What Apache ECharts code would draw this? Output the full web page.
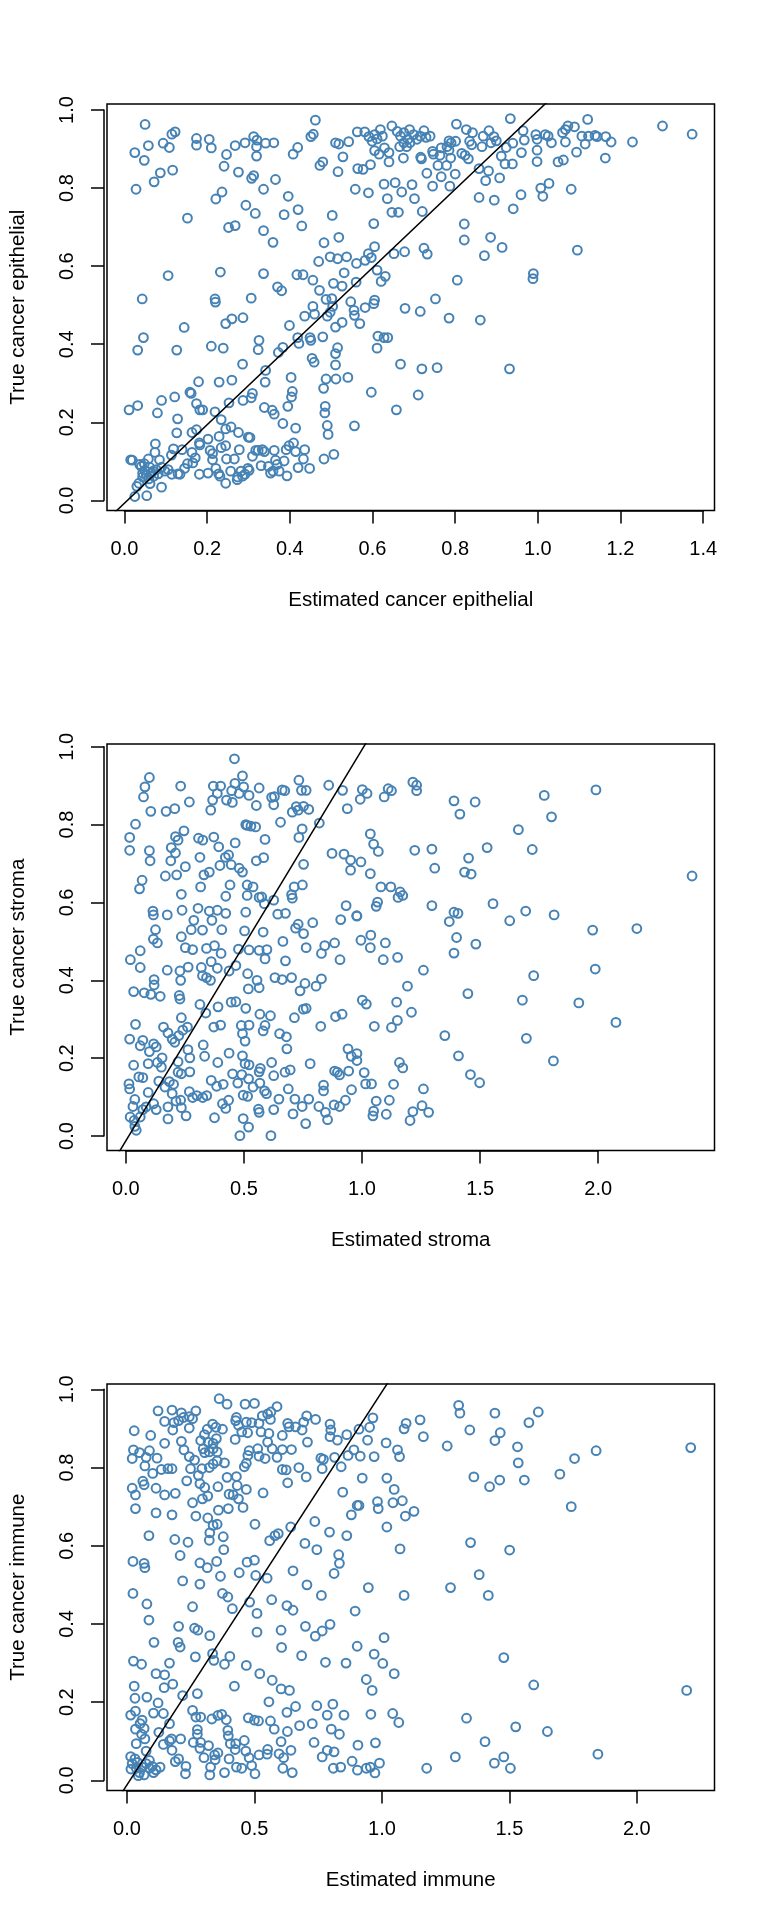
<!DOCTYPE html>
<html>
<head>
<meta charset="utf-8">
<script src="https://cdn.jsdelivr.net/npm/echarts@6/dist/echarts.min.js"></script>
<style>
html,body{margin:0;padding:0;background:#fff;}
#chart{width:768px;height:1920px;}
</style>
</head>
<body>
<div id="chart"></div>
<script>
// ---------------- DATA ----------------
// Panel 1: estimated vs true cancer epithelial  [estimated, true]
const epithelialPoints = [
[0.043,0.963],[0.018,0.891],[0.041,0.871],[0.051,0.909],[0.021,0.797],[0.065,0.816],[0.080,0.839],[0.087,0.915],[0.102,0.904],[0.108,0.938],
[0.116,0.944],[0.110,0.846],[0.146,0.723],[0.168,0.927],[0.168,0.910],[0.199,0.925],[0.204,0.903],[0.241,0.886],[0.235,0.856],[0.262,0.909],
[0.270,0.841],[0.286,0.916],[0.307,0.932],[0.315,0.923],[0.314,0.882],[0.314,0.906],[0.336,0.915],[0.356,0.916],[0.302,0.825],[0.307,0.832],
[0.360,0.822],[0.331,0.797],[0.230,0.790],[0.215,0.772],[0.288,0.756],[0.311,0.735],[0.246,0.699],[0.262,0.704],[0.331,0.691],[0.354,0.661],
[0.381,0.732],[0.391,0.779],[0.415,0.745],[0.424,0.703],[0.403,0.887],[0.414,0.904],[0.446,0.932],[0.452,0.938],[0.457,0.974],[0.468,0.858],
[0.475,0.867],[0.506,0.916],[0.514,0.913],[0.512,0.842],[0.524,0.880],[0.538,0.919],[0.559,0.944],[0.577,0.944],[0.560,0.850],[0.573,0.848],
[0.591,0.860],[0.554,0.797],[0.586,0.788],[0.498,0.730],[0.514,0.674],[0.478,0.660],[0.599,0.709],[0.601,0.650],[0.586,0.632],[0.465,0.612],
[0.493,0.624],[0.511,0.619],[0.533,0.624],[0.557,0.607],[0.578,0.615],[0.593,0.622],[0.527,0.583],[0.556,0.559],[0.522,0.549],[0.501,0.556],
[0.451,0.564],[0.467,0.538],[0.483,0.515],[0.497,0.517],[0.543,0.509],[0.578,0.494],[0.599,0.504],[0.601,0.513],[0.412,0.578],[0.427,0.578],
[0.331,0.581],[0.365,0.547],[0.375,0.537],[0.301,0.518],[0.213,0.516],[0.214,0.508],[0.226,0.585],[0.099,0.576],[0.036,0.516],[0.039,0.417],
[0.025,0.385],[0.138,0.443],[0.120,0.385],[0.204,0.395],[0.233,0.390],[0.239,0.453],[0.254,0.465],[0.281,0.468],[0.320,0.410],[0.318,0.386],
[0.280,0.349],[0.336,0.333],[0.335,0.303],[0.367,0.379],[0.378,0.392],[0.394,0.448],[0.414,0.417],[0.417,0.402],[0.431,0.472],[0.451,0.497],
[0.455,0.477],[0.444,0.417],[0.446,0.410],[0.449,0.364],[0.454,0.354],[0.475,0.419],[0.486,0.472],[0.493,0.482],[0.499,0.497],[0.506,0.444],
[0.506,0.376],[0.511,0.391],[0.506,0.347],[0.522,0.456],[0.551,0.487],[0.552,0.474],[0.565,0.453],[0.483,0.311],[0.507,0.311],[0.536,0.315],
[0.477,0.287],[0.481,0.241],[0.480,0.224],[0.486,0.192],[0.488,0.169],[0.593,0.277],[0.607,0.390],[0.609,0.421],[0.624,0.417],[0.633,0.417],
[0.664,0.349],[0.654,0.232],[0.552,0.191],[0.675,0.492],[0.674,0.637],[0.648,0.632],[0.627,0.574],[0.617,0.561],[0.607,0.590],[0.398,0.315],
[0.401,0.279],[0.399,0.265],[0.390,0.241],[0.378,0.197],[0.409,0.185],[0.333,0.238],[0.352,0.231],[0.357,0.221],[0.304,0.274],[0.301,0.263],
[0.281,0.256],[0.247,0.250],[0.254,0.308],[0.223,0.303],[0.173,0.304],[0.152,0.277],[0.155,0.274],[0.168,0.248],[0.176,0.232],[0.183,0.232],
[0.115,0.265],[0.083,0.256],[0.073,0.224],[0.122,0.209],[0.120,0.173],[0.157,0.174],[0.168,0.181],[0.213,0.227],[0.228,0.207],[0.239,0.183],
[0.252,0.188],[0.270,0.174],[0.294,0.162],[0.298,0.161],[0.004,0.232],[0.025,0.243],[0.068,0.145],[0.223,0.164],[0.196,0.157],[0.175,0.147],
[0.008,0.104],[0.012,0.103],[0.030,0.092],[0.042,0.077],[0.037,0.070],[0.051,0.106],[0.054,0.085],[0.062,0.075],[0.067,0.123],[0.078,0.104],
[0.083,0.085],[0.091,0.075],[0.107,0.116],[0.112,0.132],[0.123,0.068],[0.133,0.130],[0.139,0.082],[0.146,0.094],[0.157,0.123],[0.165,0.109],
[0.175,0.067],[0.176,0.142],[0.201,0.128],[0.207,0.120],[0.207,0.104],[0.215,0.082],[0.222,0.068],[0.228,0.135],[0.239,0.140],[0.241,0.106],
[0.239,0.044],[0.251,0.075],[0.260,0.106],[0.267,0.053],[0.272,0.130],[0.276,0.075],[0.286,0.067],[0.293,0.082],[0.304,0.113],[0.318,0.128],
[0.328,0.130],[0.333,0.125],[0.343,0.087],[0.348,0.070],[0.357,0.128],[0.360,0.103],[0.369,0.075],[0.381,0.101],[0.386,0.130],[0.388,0.063],
[0.393,0.140],[0.404,0.147],[0.409,0.125],[0.415,0.084],[0.428,0.106],[0.431,0.130],[0.443,0.082],[0.478,0.106],[0.502,0.118],[0.018,0.010],
[0.047,0.012],[0.023,0.036],[0.028,0.044],[0.055,0.043],[0.083,0.034],[0.037,0.060],[0.046,0.065],[0.058,0.070],[0.070,0.079],[0.099,0.079],
[0.108,0.067],[0.128,0.067],[0.159,0.096],[0.196,0.070],[0.225,0.062],[0.268,0.060],[0.280,0.062],[0.296,0.077],[0.354,0.075],[0.364,0.092],
[0.325,0.089],[0.312,0.128],[0.034,0.087],[0.052,0.055],[0.064,0.062],[0.075,0.068],[0.041,0.094],
[0.800,0.964],[0.824,0.950],[0.839,0.942],[0.865,0.933],[0.879,0.947],[0.891,0.932],[0.931,0.978],[0.962,0.947],[0.965,0.923],[0.993,0.937],
[0.996,0.925],[0.996,0.897],[1.016,0.937],[1.023,0.933],[1.031,0.916],[1.058,0.942],[1.065,0.950],[1.071,0.959],[1.087,0.957],[1.065,0.918],
[1.092,0.892],[1.105,0.933],[1.119,0.976],[1.121,0.933],[1.137,0.935],[1.142,0.932],[1.163,0.932],[1.176,0.918],[1.162,0.877],[1.113,0.913],
[1.228,0.918],[1.301,0.959],[1.373,0.938],[1.047,0.867],[1.060,0.872],[0.996,0.868],[1.005,0.800],[1.025,0.812],[1.010,0.779],[1.079,0.797],
[0.957,0.783],[0.938,0.747],[0.892,0.769],[0.855,0.776],[0.905,0.826],[0.871,0.819],[0.878,0.844],[0.855,0.850],[0.918,0.862],[0.936,0.862],
[0.909,0.882],[0.958,0.891],[0.937,0.915],[0.921,0.904],[0.897,0.921],[0.884,0.916],[0.862,0.906],[0.837,0.911],[0.832,0.920],[0.829,0.875],
[0.821,0.884],[0.813,0.889],[0.798,0.920],[0.787,0.916],[0.782,0.921],[0.777,0.906],[0.786,0.877],[0.776,0.858],[0.797,0.836],[0.784,0.805],
[0.763,0.829],[0.755,0.858],[0.760,0.884],[0.742,0.894],[0.728,0.838],[0.742,0.805],[0.713,0.879],[0.692,0.809],[0.698,0.773],[0.717,0.740],
[0.721,0.646],[0.729,0.631],[0.819,0.708],[0.819,0.667],[0.883,0.674],[0.911,0.648],[0.868,0.627],[0.802,0.564],[0.987,0.581],[0.986,0.568],
[1.094,0.641],[0.749,0.516],[0.712,0.484],[0.782,0.467],[0.858,0.462],[0.716,0.337],[0.753,0.340],[0.929,0.337],[0.707,0.270],[0.686,0.950],
[0.696,0.937],[0.704,0.925],[0.712,0.933],[0.721,0.947],[0.726,0.930],[0.736,0.933],[0.687,0.916],[0.679,0.906],[0.715,0.875],[0.744,0.887],
[0.763,0.903],[0.782,0.897],[0.587,0.932],[0.595,0.920],[0.601,0.937],[0.607,0.926],[0.615,0.950],[0.620,0.933],[0.625,0.903],[0.601,0.896],
[0.636,0.867],[0.643,0.959],[0.656,0.945],[0.664,0.933],[0.672,0.942],[0.672,0.916],[0.682,0.925],[0.662,0.906],[0.671,0.877],[0.636,0.891],
[0.612,0.887],[0.651,0.814],[0.624,0.810],[0.632,0.773],[0.667,0.790],[0.643,0.738],[0.659,0.738]
];

// Panel 2: estimated vs true cancer stroma  [estimated, true]
const stromaPoints = [
[0.450,0.969],[0.484,0.925],[0.088,0.921],[0.069,0.897],[0.063,0.871],[0.221,0.899],[0.094,0.834],[0.029,0.801],[0.004,0.767],[0.004,0.734],
[0.088,0.733],[0.091,0.707],[0.057,0.657],[0.046,0.635],[0.159,0.834],[0.196,0.841],[0.258,0.858],[0.199,0.769],[0.210,0.760],[0.235,0.784],
[0.181,0.741],[0.199,0.727],[0.179,0.707],[0.241,0.692],[0.156,0.668],[0.204,0.671],[0.224,0.621],[0.103,0.578],[0.105,0.568],[0.164,0.568],
[0.227,0.580],[0.114,0.530],[0.105,0.506],[0.122,0.496],[0.007,0.453],[0.049,0.476],[0.049,0.433],[0.164,0.426],[0.218,0.424],[0.253,0.434],
[0.224,0.512],[0.241,0.484],[0.272,0.479],[0.108,0.402],[0.108,0.388],[0.021,0.371],[0.066,0.368],[0.094,0.364],[0.134,0.359],[0.215,0.361],
[0.218,0.352],[0.221,0.400],[0.029,0.287],[0.004,0.249],[0.060,0.246],[0.049,0.232],[0.088,0.217],[0.106,0.237],[0.117,0.229],[0.148,0.280],
[0.167,0.265],[0.185,0.249],[0.196,0.241],[0.213,0.258],[0.224,0.304],[0.230,0.272],[0.250,0.280],[0.303,0.338],[0.328,0.316],[0.380,0.332],
[0.362,0.280],[0.391,0.285],[0.436,0.344],[0.456,0.345],[0.498,0.328],[0.558,0.313],[0.603,0.309],[0.479,0.284],[0.512,0.285],[0.484,0.263],
[0.495,0.244],[0.580,0.284],[0.572,0.270],[0.642,0.263],[0.671,0.255],[0.705,0.304],[0.743,0.326],[0.755,0.328],[0.817,0.282],[0.880,0.307],
[0.908,0.313],[0.673,0.224],[0.317,0.234],[0.323,0.205],[0.260,0.201],[0.252,0.222],[0.021,0.182],[0.083,0.186],[0.122,0.189],[0.139,0.177],
[0.142,0.201],[0.210,0.191],[0.210,0.164],[0.224,0.160],[0.260,0.165],[0.043,0.152],[0.060,0.150],[0.128,0.141],[0.001,0.134],[0.004,0.121],
[0.026,0.094],[0.018,0.076],[0.006,0.049],[0.023,0.040],[0.026,0.025],[0.032,0.015],[0.049,0.049],[0.060,0.068],[0.074,0.075],[0.083,0.112],
[0.106,0.083],[0.117,0.068],[0.154,0.126],[0.173,0.140],[0.191,0.133],[0.185,0.109],[0.167,0.075],[0.167,0.044],[0.201,0.090],[0.221,0.092],
[0.224,0.073],[0.244,0.052],[0.258,0.114],[0.272,0.099],[0.290,0.104],[0.315,0.099],[0.332,0.104],[0.351,0.143],[0.374,0.128],[0.402,0.133],
[0.399,0.083],[0.413,0.071],[0.425,0.092],[0.365,0.047],[0.379,0.189],[0.427,0.213],[0.442,0.160],[0.481,0.158],[0.484,0.206],[0.495,0.186],
[0.512,0.183],[0.510,0.147],[0.555,0.165],[0.560,0.174],[0.608,0.189],[0.665,0.164],[0.687,0.170],[0.464,0.136],[0.529,0.126],[0.558,0.136],
[0.578,0.116],[0.586,0.109],[0.617,0.155],[0.639,0.095],[0.679,0.121],[0.487,0.105],[0.506,0.102],[0.552,0.069],[0.555,0.061],[0.617,0.068],
[0.487,0.045],[0.510,0.023],[0.473,0.001],[0.605,0.001],[0.707,0.095],[0.738,0.076],[0.766,0.095],[0.699,0.057],[0.753,0.032],[0.809,0.076],
[0.829,0.131],[0.829,0.116],[0.837,0.061],[0.846,0.042],[0.772,0.186],[0.876,0.167],[0.888,0.164],[0.897,0.157],[0.933,0.224],[0.947,0.205],
[0.936,0.167],[0.948,0.119],[0.874,0.080],[0.897,0.076],[0.922,0.092],[0.295,0.585],[0.343,0.578],[0.377,0.580],[0.413,0.572],[0.277,0.554],
[0.314,0.529],[0.266,0.530],[0.354,0.554],[0.396,0.530],[0.331,0.482],[0.365,0.489],[0.393,0.469],[0.351,0.448],[0.377,0.431],[0.309,0.433],
[0.314,0.412],[0.331,0.407],[0.348,0.400],[0.427,0.424],[0.456,0.438],[0.506,0.417],[0.509,0.378],[0.546,0.400],[0.555,0.381],[0.493,0.527],
[0.498,0.575],[0.467,0.480],[0.512,0.478],[0.555,0.477],[0.588,0.479],[0.580,0.455],[0.572,0.524],[0.504,0.618],[0.555,0.613],[0.577,0.597],
[0.617,0.606],[0.634,0.570],[0.667,0.572],[0.696,0.611],[0.739,0.645],[0.704,0.640],[0.693,0.620],[0.656,0.500],[0.667,0.450],[0.710,0.534],
[0.721,0.544],[0.744,0.520],[0.783,0.548],[0.755,0.484],[0.622,0.407],[0.653,0.402],[0.693,0.407],[0.729,0.373],[0.750,0.392],[0.797,0.385],
[0.820,0.404],[0.820,0.469],[0.834,0.489],[0.876,0.496],[0.899,0.453],[0.902,0.556],[0.925,0.592],[0.970,0.566],[0.744,0.698],[0.738,0.789],
[0.724,0.767],[0.713,0.846],[0.724,0.914],[0.766,0.839],[0.811,0.804],[0.851,0.901],[0.910,0.888],[0.930,0.841],[0.865,0.726],[0.916,0.724],
[0.944,0.709],[0.944,0.683],[0.664,0.887],[0.620,0.872],[0.617,0.851],[0.646,0.806],[0.696,0.832],[0.721,0.837],[0.744,0.847],[0.735,0.888],
[0.555,0.894],[0.543,0.849],[0.504,0.798],[0.520,0.796],[0.540,0.794],[0.580,0.762],[0.574,0.715],[0.543,0.707],[0.453,0.753],[0.436,0.697],
[0.470,0.688],[0.484,0.678],[0.388,0.695],[0.411,0.716],[0.425,0.722],[0.383,0.743],[0.362,0.768],[0.315,0.760],[0.297,0.765],[0.303,0.716],
[0.320,0.671],[0.343,0.678],[0.306,0.640],[0.431,0.645],[0.413,0.616],[0.504,0.645],[0.529,0.640],[0.566,0.614],[0.360,0.899],[0.377,0.880],
[0.357,0.863],[0.349,0.837],[0.416,0.863],[0.441,0.857],[0.470,0.880],[0.489,0.897],[0.512,0.875],[0.391,0.899],[0.438,0.887],[0.452,0.906],
[0.498,0.800],[0.608,0.870],[0.653,0.889],[0.755,0.888],
[0.994,0.890],[1.014,0.880],[0.985,0.865],[1.087,0.871],[1.104,0.892],[1.118,0.887],[1.209,0.909],[1.225,0.901],[1.225,0.887],[1.384,0.861],
[1.474,0.858],[1.409,0.827],[1.768,0.875],[1.799,0.820],[1.988,0.889],[1.658,0.787],[1.717,0.736],[1.525,0.741],[1.028,0.776],[1.042,0.750],
[1.062,0.731],[1.217,0.734],[1.290,0.737],[1.302,0.688],[1.446,0.714],[1.429,0.678],[1.457,0.673],[0.988,0.704],[1.028,0.674],[1.073,0.640],
[1.115,0.640],[1.155,0.627],[1.146,0.613],[1.166,0.618],[1.059,0.601],[1.053,0.590],[0.971,0.565],[1.290,0.592],[1.384,0.575],[1.401,0.572],
[1.364,0.551],[1.550,0.597],[1.621,0.553],[1.689,0.578],[1.810,0.568],[1.974,0.529],[1.985,0.429],[1.723,0.412],[1.675,0.349],[1.915,0.342],
[2.073,0.292],[1.692,0.251],[1.807,0.193],[1.030,0.516],[0.988,0.503],[1.028,0.484],[1.092,0.496],[1.083,0.453],[1.144,0.459],[1.395,0.510],
[1.384,0.470],[1.477,0.493],[1.254,0.426],[1.186,0.385],[1.443,0.366],[0.994,0.349],[1.011,0.339],[1.140,0.344],[1.203,0.318],[1.143,0.297],
[1.118,0.279],[1.045,0.282],[1.345,0.258],[1.403,0.206],[1.454,0.158],[1.493,0.137],[0.971,0.212],[0.971,0.194],[1.002,0.163],[1.008,0.134],
[1.033,0.134],[1.127,0.133],[1.152,0.189],[1.166,0.175],[1.254,0.121],[1.109,0.092],[1.053,0.090],[1.042,0.064],[1.039,0.052],[1.096,0.056],
[1.209,0.063],[1.248,0.078],[1.276,0.061],[1.197,0.040],[2.397,0.668],[2.162,0.533]
];

// Panel 3: estimated vs true cancer immune  [estimated, true]
const immunePoints = [
[0.352,0.976],[0.383,0.962],[0.454,0.962],[0.491,0.964],[0.580,0.956],[0.111,0.945],[0.166,0.947],[0.203,0.940],[0.211,0.928],[0.234,0.930],
[0.260,0.945],[0.247,0.925],[0.137,0.918],[0.174,0.915],[0.192,0.920],[0.234,0.901],[0.169,0.896],[0.017,0.894],[0.082,0.882],[0.137,0.862],
[0.203,0.867],[0.213,0.845],[0.014,0.845],[0.009,0.823],[0.038,0.838],[0.064,0.826],[0.059,0.804],[0.077,0.843],[0.107,0.824],[0.090,0.785],
[0.124,0.795],[0.150,0.797],[0.166,0.797],[0.239,0.797],[0.255,0.819],[0.224,0.766],[0.009,0.747],[0.022,0.730],[0.051,0.765],[0.056,0.756],
[0.103,0.747],[0.137,0.730],[0.179,0.734],[0.022,0.695],[0.103,0.684],[0.166,0.679],[0.075,0.626],[0.177,0.616],[0.229,0.609],[0.198,0.575],
[0.012,0.560],[0.056,0.555],[0.059,0.544],[0.208,0.510],[0.012,0.478],[0.067,0.451],[0.075,0.410],[0.247,0.444],[0.192,0.394],[0.095,0.353],
[0.190,0.353],[0.198,0.341],[0.255,0.389],[0.268,0.384],[0.315,0.370],[0.258,0.316],[0.014,0.305],[0.046,0.297],[0.156,0.300],[0.103,0.273],
[0.137,0.270],[0.169,0.246],[0.135,0.237],[0.017,0.241],[0.020,0.210],[0.067,0.213],[0.111,0.198],[0.208,0.217],[0.266,0.222],[0.003,0.167],
[0.022,0.177],[0.093,0.172],[0.132,0.171],[0.156,0.145],[0.048,0.154],[0.040,0.145],[0.022,0.131],[0.056,0.133],[0.046,0.118],[0.059,0.106],
[0.025,0.094],[0.064,0.075],[0.132,0.092],[0.156,0.101],[0.164,0.106],[0.200,0.106],[0.114,0.123],[0.166,0.077],[0.192,0.055],[0.221,0.036],
[0.219,0.017],[0.179,0.048],[0.003,0.061],[0.004,0.029],[0.009,0.043],[0.020,0.055],[0.025,0.031],[0.038,0.020],[0.048,0.034],[0.064,0.043],
[0.077,0.031],[0.093,0.020],[0.088,0.036],[0.103,0.027],[0.119,0.034],[0.056,0.014],[0.033,0.012],[0.077,0.051],[0.030,0.046],[0.247,0.179],
[0.260,0.162],[0.279,0.162],[0.266,0.130],[0.266,0.118],[0.250,0.097],[0.279,0.097],[0.276,0.082],[0.292,0.058],[0.310,0.089],[0.318,0.034],
[0.315,0.014],[0.334,0.065],[0.336,0.053],[0.347,0.070],[0.373,0.020],[0.386,0.128],[0.388,0.114],[0.396,0.094],[0.417,0.094],[0.415,0.079],
[0.451,0.102],[0.391,0.055],[0.420,0.034],[0.441,0.031],[0.457,0.075],[0.470,0.058],[0.480,0.038],[0.493,0.017],[0.509,0.065],[0.543,0.079],
[0.541,0.067],[0.588,0.068],[0.606,0.058],[0.635,0.077],[0.603,0.031],[0.640,0.020],[0.596,0.099],[0.621,0.125],[0.669,0.140],[0.653,0.189],
[0.619,0.174],[0.737,0.191],[0.800,0.195],[0.778,0.167],[0.844,0.167],[0.794,0.131],[0.826,0.118],[0.726,0.097],[0.758,0.060],[0.778,0.077],
[0.805,0.073],[0.802,0.031],[0.831,0.034],[0.876,0.049],[0.899,0.090],[0.897,0.026],[0.719,0.145],[0.323,0.157],[0.347,0.166],[0.362,0.169],
[0.380,0.155],[0.467,0.160],[0.491,0.154],[0.507,0.152],[0.554,0.152],[0.569,0.131],[0.512,0.273],[0.561,0.256],[0.596,0.234],[0.629,0.230],
[0.548,0.201],[0.412,0.241],[0.459,0.294],[0.394,0.317],[0.373,0.297],[0.326,0.324],[0.331,0.307],[0.501,0.379],[0.596,0.384],[0.598,0.340],
[0.677,0.319],[0.771,0.302],[0.852,0.300],[0.692,0.394],[0.731,0.369],[0.758,0.382],[0.789,0.399],[0.896,0.343],[0.888,0.433],[0.365,0.478],
[0.386,0.469],[0.404,0.439],[0.472,0.456],[0.501,0.427],[0.559,0.462],[0.619,0.447],[0.643,0.435],[0.755,0.473],[0.276,0.502],[0.357,0.522],
[0.431,0.531],[0.462,0.558],[0.491,0.563],[0.496,0.524],[0.541,0.517],[0.643,0.536],[0.698,0.500],[0.690,0.606],[0.737,0.590],[0.805,0.529],
[0.826,0.555],[0.823,0.577],[0.276,0.556],[0.305,0.544],[0.342,0.560],[0.370,0.590],[0.368,0.623],[0.313,0.614],[0.315,0.633],[0.328,0.652],
[0.344,0.655],[0.307,0.671],[0.349,0.691],[0.260,0.676],[0.247,0.710],[0.286,0.720],[0.307,0.727],[0.276,0.759],[0.295,0.749],[0.270,0.780],
[0.284,0.797],[0.313,0.800],[0.328,0.809],[0.344,0.817],[0.347,0.751],[0.391,0.732],[0.388,0.695],[0.383,0.775],[0.420,0.777],[0.423,0.754],
[0.407,0.730],[0.428,0.720],[0.446,0.698],[0.459,0.744],[0.493,0.655],[0.525,0.735],[0.551,0.613],[0.572,0.626],[0.585,0.631],[0.634,0.648],
[0.729,0.662],[0.787,0.635],[0.855,0.626],[0.873,0.679],[0.839,0.737],[0.896,0.703],[0.833,0.802],[0.758,0.797],[0.763,0.821],[0.695,0.776],
[0.622,0.761],[0.601,0.795],[0.666,0.800],[0.637,0.846],[0.601,0.846],[0.580,0.826],[0.533,0.823],[0.509,0.829],[0.465,0.831],[0.459,0.811],
[0.451,0.802],[0.470,0.843],[0.504,0.848],[0.543,0.865],[0.561,0.848],[0.601,0.882],[0.627,0.904],[0.653,0.904],[0.679,0.896],[0.700,0.865],
[0.685,0.916],[0.697,0.932],[0.732,0.923],[0.789,0.911],[0.792,0.896],[0.789,0.879],[0.818,0.870],[0.855,0.884],[0.860,0.831],[0.883,0.845],
[0.753,0.824],[0.517,0.891],[0.548,0.887],[0.509,0.913],[0.522,0.932],[0.543,0.937],[0.554,0.923],[0.556,0.942],[0.480,0.915],[0.459,0.916],
[0.420,0.928],[0.417,0.920],[0.415,0.872],[0.441,0.891],[0.464,0.889],[0.428,0.908],[0.365,0.898],[0.339,0.903],[0.326,0.911],[0.305,0.898],
[0.294,0.884],[0.279,0.869],[0.289,0.848],[0.295,0.838],[0.313,0.840],[0.328,0.848],[0.344,0.840],[0.308,0.865],[0.328,0.862],[0.341,0.874],
[0.373,0.812],[0.234,0.828],[0.616,0.794],[0.622,0.913],[0.807,0.826],
[1.296,0.959],[1.301,0.939],[1.439,0.939],[1.610,0.942],[1.573,0.915],[0.958,0.927],[0.945,0.903],[0.937,0.870],[0.903,0.898],[1.010,0.863],
[1.055,0.845],[1.063,0.828],[0.963,0.828],[0.908,0.829],[1.089,0.913],[1.081,0.899],[1.144,0.922],[1.157,0.879],[1.251,0.855],[1.340,0.896],
[1.460,0.889],[1.439,0.869],[1.528,0.853],[1.531,0.812],[1.838,0.843],[1.753,0.823],[1.695,0.783],[1.740,0.700],[1.356,0.776],[1.418,0.751],
[1.458,0.768],[1.555,0.768],[0.916,0.773],[1.013,0.773],[1.042,0.744],[0.976,0.713],[0.979,0.695],[1.037,0.710],[1.074,0.715],[1.086,0.676],
[1.120,0.688],[1.013,0.648],[0.903,0.703],[1.065,0.592],[1.343,0.608],[1.497,0.589],[1.377,0.526],[1.264,0.493],[1.413,0.473],[0.940,0.493],
[1.081,0.473],[1.002,0.365],[0.963,0.323],[0.997,0.299],[1.042,0.273],[0.932,0.258],[0.955,0.230],[1.474,0.314],[1.592,0.244],[0.950,0.169],
[1.036,0.171],[1.060,0.148],[1.327,0.159],[1.521,0.137],[1.646,0.125],[1.400,0.099],[0.968,0.096],[1.283,0.060],[1.437,0.044],[1.474,0.060],
[1.500,0.031],[1.845,0.067],[1.170,0.031],[0.932,0.031],[0.948,0.034],[0.966,0.019],[0.984,0.044],[2.211,0.851],[2.195,0.230]
];

// Axis tick values
const epithelialXTicks = [0.0, 0.2, 0.4, 0.6, 0.8, 1.0, 1.2, 1.4];
const stromaXTicks = [0.0, 0.5, 1.0, 1.5, 2.0];
const immuneXTicks = [0.0, 0.5, 1.0, 1.5, 2.0];
const yTicks = [0.0, 0.2, 0.4, 0.6, 0.8, 1.0];

// Axis extents (R style, 4% beyond data range)
const epithelialXRange = [-0.0496, 1.4274];
const epithelialYRange = [-0.0256, 1.0154];
const stromaXRange = [-0.0924, 2.4924];
const stromaYRange = [-0.0368, 1.007];
const immuneXRange = [-0.0903, 2.3047];
const immuneYRange = [-0.0256, 1.0136];

// Identity reference line y = x
const identityLine = [-1, 3];

const xTitles = ['Estimated cancer epithelial', 'Estimated stroma', 'Estimated immune'];
const yTitles = ['True cancer epithelial', 'True cancer stroma', 'True cancer immune'];

// ---------------- LAYOUT ----------------
const panels = [
  {pts: epithelialPoints, xt: epithelialXTicks, xr: epithelialXRange, yr: epithelialYRange},
  {pts: stromaPoints, xt: stromaXTicks, xr: stromaXRange, yr: stromaYRange},
  {pts: immunePoints, xt: immuneXTicks, xr: immuneXRange, yr: immuneYRange}
];
const BOX_LEFT = 104, BOX_W = 610.5, BOX_TOP = 104, BOX_H = 406.4, PANEL_H = 640;
const FONT = '"Liberation Sans", Arial, Helvetica, sans-serif';
const TICK_FS = 20, NAME_FS = 20.5;
const LINE_W = 1.5;
const fmt = v => Number(v).toFixed(1);

const grid = [], xAxis = [], yAxis = [], series = [];
panels.forEach((p, i) => {
  const top = BOX_TOP + i * PANEL_H;
  const xSpan = p.xr[1] - p.xr[0], ySpan = p.yr[1] - p.yr[0];
  const xFirst = p.xt[0], xLast = p.xt[p.xt.length - 1];
  const yFirst = yTicks[0], yLast = yTicks[yTicks.length - 1];
  const xInterval = p.xt[1] - p.xt[0];
  const yInterval = yTicks[1] - yTicks[0];

  // main plotting grid (box)
  grid.push({left: BOX_LEFT, top: top, width: BOX_W, height: BOX_H, show: true,
    borderColor: '#000', borderWidth: LINE_W, backgroundColor: 'transparent', containLabel: false});
  // helper grid for x ticks (spans tick range)
  const gxLeft = BOX_LEFT + (xFirst - p.xr[0]) / xSpan * BOX_W;
  const gxW = (xLast - xFirst) / xSpan * BOX_W;
  grid.push({left: gxLeft, top: top, width: gxW, height: BOX_H, show: false, containLabel: false});
  // helper grid for y ticks
  const gyTop = top + (p.yr[1] - yLast) / ySpan * BOX_H;
  const gyH = (yLast - yFirst) / ySpan * BOX_H;
  grid.push({left: BOX_LEFT, top: gyTop, width: BOX_W, height: gyH, show: false, containLabel: false});

  const g0 = 3 * i;
  // main axes: only names shown
  xAxis.push({gridIndex: g0, type: 'value', min: p.xr[0], max: p.xr[1],
    axisLine: {show: false}, axisTick: {show: false}, axisLabel: {show: false}, splitLine: {show: false},
    name: xTitles[i], nameLocation: 'middle', nameGap: 79,
    nameTextStyle: {fontFamily: FONT, fontSize: NAME_FS, color: '#000'}});
  yAxis.push({gridIndex: g0, type: 'value', min: p.yr[0], max: p.yr[1],
    axisLine: {show: false}, axisTick: {show: false}, axisLabel: {show: false}, splitLine: {show: false},
    name: yTitles[i], nameLocation: 'middle', nameGap: 78, nameRotate: 90,
    nameTextStyle: {fontFamily: FONT, fontSize: NAME_FS, color: '#000'}});

  // x helper axes
  xAxis.push({gridIndex: g0 + 1, type: 'value', min: xFirst, max: xLast, interval: xInterval,
    axisLine: {show: true, onZero: false, lineStyle: {color: '#000', width: LINE_W}},
    axisTick: {show: true, length: 13, lineStyle: {color: '#000', width: LINE_W}},
    axisLabel: {show: true, margin: 29, formatter: fmt, fontFamily: FONT, fontSize: TICK_FS, color: '#000',
      showMinLabel: true, showMaxLabel: true, hideOverlap: false},
    splitLine: {show: false}});
  yAxis.push({gridIndex: g0 + 1, type: 'value', show: false});

  // y helper axes
  xAxis.push({gridIndex: g0 + 2, type: 'value', show: false});
  yAxis.push({gridIndex: g0 + 2, type: 'value', min: yFirst, max: yLast, interval: yInterval,
    axisLine: {show: true, onZero: false, lineStyle: {color: '#000', width: LINE_W}},
    axisTick: {show: true, length: 13, lineStyle: {color: '#000', width: LINE_W}},
    axisLabel: {show: true, margin: 27, rotate: 90, formatter: fmt, fontFamily: FONT, fontSize: TICK_FS, color: '#000',
      showMinLabel: true, showMaxLabel: true, hideOverlap: false},
    splitLine: {show: false}});

  series.push({type: 'scatter', xAxisIndex: g0, yAxisIndex: g0, data: p.pts,
    symbol: 'circle', symbolSize: 8.8, z: 2,
    itemStyle: {color: 'rgba(0,0,0,0)', borderColor: '#4682B4', borderWidth: 2, opacity: 1},
    emphasis: {disabled: true}, silent: true});
  series.push({type: 'line', xAxisIndex: g0, yAxisIndex: g0,
    data: identityLine.map(v => [v, v]), symbol: 'none', clip: true, z: 3,
    lineStyle: {color: '#000', width: 1.5}, emphasis: {disabled: true}, silent: true});
});

const chart = echarts.init(document.getElementById('chart'), null, {renderer: 'canvas'});
chart.setOption({
  animation: false,
  backgroundColor: '#fff',
  textStyle: {fontFamily: FONT},
  grid: grid, xAxis: xAxis, yAxis: yAxis, series: series
});
</script>
</body>
</html>
